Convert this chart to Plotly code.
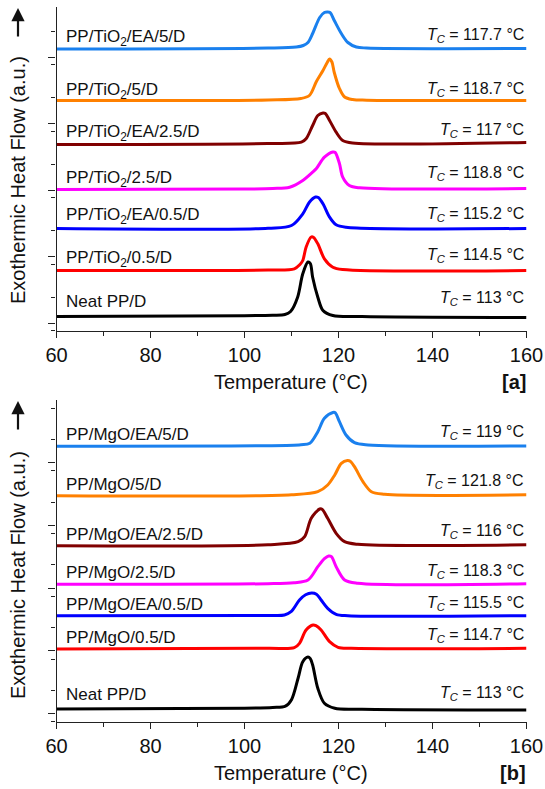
import plotly.graph_objects as go

W, H = 545, 789
FONT = "Arial, Liberation Sans, sans-serif"

# ---------------- data: panel [a] (TiO2) ----------------
a_EA5_T = [60, 105, 111, 112.5, 113.5, 114.5, 116, 117, 117.6, 118.2, 119.1, 120.6, 122, 123.8, 126, 160]
a_EA5_y = [281.5, 282.5, 283.5, 285, 288, 297, 313, 318, 318.5, 318, 310, 297, 288, 283.5, 282.5, 282]
a_5_T = [60, 105, 112, 113.8, 115.3, 116.7, 117.6, 118.1, 118.6, 119.1, 120.2, 121.3, 123, 126, 160]
a_5_y = [230, 230.5, 232, 235, 249, 260, 268, 271.5, 268.5, 258, 242, 233.5, 231, 230.3, 230]
a_EA25_T = [60, 105, 112.1, 113.1, 114.5, 115.6, 116.7, 117.2, 118.1, 119.5, 120.9, 123, 160]
a_EA25_y = [186, 187, 188.3, 191.7, 205, 215, 217.5, 217, 210, 198.3, 190, 187.5, 188]
a_25_T = [60, 100, 106, 109.6, 112.4, 114.5, 115.3, 117, 118.8, 119.3, 120.2, 120.9, 122.3, 124.5, 160]
a_25_y = [141, 141.5, 142, 143.3, 150, 158.3, 162, 173.3, 178.5, 178, 167, 153.3, 145, 142.7, 142]
a_EA05_T = [60, 105, 110, 112.4, 113.8, 115.1, 115.7, 116.7, 118.1, 119.5, 121.6, 160]
a_EA05_y = [102, 102.3, 105, 116.7, 128.3, 133.5, 133, 126.7, 113.3, 105.7, 103.3, 102]
a_05_T = [60, 105, 110.6, 111.8, 112.4, 113.1, 114.2, 114.7, 115.6, 117, 118.8, 120.9, 160]
a_05_y = [60, 60.5, 61.7, 66, 70, 83.3, 93.5, 93, 86.7, 71.7, 63.3, 61, 60]
a_neat_T = [60, 100, 106, 108.6, 109.8, 111.3, 112.4, 113.5, 114, 114.5, 115.6, 116.7, 118.8, 125, 160]
a_neat_y = [14, 14.8, 15.3, 16, 19, 33.3, 56.7, 68.5, 67, 53.3, 33.3, 20, 15, 14, 13]

# ---------------- data: panel [b] (MgO) ----------------
b_EA5_T = [60, 105, 112, 113.9, 115.6, 117, 118.8, 119.3, 120.2, 121.6, 123.4, 126.3, 160]
b_EA5_y = [275.5, 276, 277, 278.4, 290, 303.4, 309.2, 309, 300, 286.7, 279, 276.7, 275.7]
b_5_T = [60, 110, 115.6, 117.7, 119.2, 120.6, 121.9, 122.5, 123.4, 125.2, 127, 129.8, 160]
b_5_y = [226, 227, 230, 236.7, 246.7, 258.4, 261.2, 260.5, 255, 240, 230, 227.4, 227]
b_EA25_T = [60, 105, 111.4, 112.8, 114.2, 116, 116.5, 117.7, 119.5, 121.3, 124.1, 160]
b_EA25_y = [176, 177, 180, 185, 203.4, 212.7, 212.5, 203.4, 188.4, 180, 177.4, 177]
b_25_T = [60, 105, 110.5, 113.5, 115.6, 117, 117.9, 118.5, 119.5, 121.3, 124.1, 160]
b_25_y = [137.4, 138, 139, 141.7, 155, 163, 165.7, 165, 155, 141.7, 138.4, 138]
b_EA05_T = [60, 105, 108.5, 109.9, 111.7, 113, 114.3, 115.3, 116.3, 117.7, 119.5, 122, 160]
b_EA05_y = [106, 106.3, 106.7, 110, 121.7, 127, 128.7, 127.5, 121.7, 113.4, 107.4, 106, 106]
b_05_T = [60, 105, 110.6, 111.7, 113.1, 114.6, 115.2, 116.3, 118.1, 119.9, 122.7, 160]
b_05_y = [72.7, 73.4, 74, 78.4, 91.7, 96.7, 96, 91.7, 80, 74.4, 73.4, 73.4]
b_neat_T = [60, 100, 106, 108.7, 110, 111.4, 112.4, 113.5, 114, 114.5, 115.6, 117, 119.2, 125, 160]
b_neat_y = [12.7, 13.4, 14.2, 15.5, 22, 43.4, 60, 64.7, 63, 56.7, 33.4, 18.4, 13.4, 12.5, 11.7]

colors = ["#1a80ee", "#ff8000", "#800000", "#ff00ff", "#0000ff", "#ff0000", "#000000"]

a_names = ["PP/TiO<sub>2</sub>/EA/5/D", "PP/TiO<sub>2</sub>/5/D", "PP/TiO<sub>2</sub>/EA/2.5/D",
           "PP/TiO<sub>2</sub>/2.5/D", "PP/TiO<sub>2</sub>/EA/0.5/D", "PP/TiO<sub>2</sub>/0.5/D", "Neat PP/D"]
a_tc = ["117.7", "118.7", "117", "118.8", "115.2", "114.5", "113"]
b_names = ["PP/MgO/EA/5/D", "PP/MgO/5/D", "PP/MgO/EA/2.5/D", "PP/MgO/2.5/D",
           "PP/MgO/EA/0.5/D", "PP/MgO/0.5/D", "Neat PP/D"]
b_tc = ["119", "121.8", "116", "118.3", "115.5", "114.7", "113"]

a_series = [(a_EA5_T, a_EA5_y), (a_5_T, a_5_y), (a_EA25_T, a_EA25_y), (a_25_T, a_25_y),
            (a_EA05_T, a_EA05_y), (a_05_T, a_05_y), (a_neat_T, a_neat_y)]
b_series = [(b_EA5_T, b_EA5_y), (b_5_T, b_5_y), (b_EA25_T, b_EA25_y), (b_25_T, b_25_y),
            (b_EA05_T, b_EA05_y), (b_05_T, b_05_y), (b_neat_T, b_neat_y)]

# ---------------- layout geometry (pixels) ----------------
def px(x):
    return x / W

def py(y):
    return 1 - y / H

X0, X1 = 56.5, 526.5
A_TOP, A_BOT = 7, 330.5
B_TOP, B_BOT = 400, 721.7

a_lab_y = [37.5, 91, 132.5, 179, 216, 259, 301]
a_tc_y = [35, 89, 130, 173, 214, 255, 298]
b_lab_y = [434.5, 484.5, 534, 572.5, 604, 637.5, 694]
b_tc_y = [432, 481, 531, 571, 603, 635, 693]

fig = go.Figure()
for (T, y), c, n in zip(a_series, colors, a_names):
    fig.add_trace(go.Scatter(x=T, y=y, mode="lines", line=dict(color=c, width=3, shape="spline", smoothing=0.9),
                             xaxis="x", yaxis="y", showlegend=False, name=n))
for (T, y), c, n in zip(b_series, colors, b_names):
    fig.add_trace(go.Scatter(x=T, y=y, mode="lines", line=dict(color=c, width=3, shape="spline", smoothing=0.9),
                             xaxis="x2", yaxis="y2", showlegend=False, name=n))

axis_common = dict(showgrid=False, zeroline=False, showline=True, linecolor="#222", linewidth=1.3,
                   ticks="outside", tickcolor="#222", tickwidth=1.3, mirror=False, automargin=False)

xa = dict(axis_common, range=[60, 160], dtick=20, tick0=60, ticklen=6,
          minor=dict(dtick=10, ticks="outside", ticklen=4, tickcolor="#222", tickwidth=1.3),
          tickfont=dict(family=FONT, size=20, color="#111"), domain=[px(X0), px(X1)])

fig.update_layout(
    width=W, height=H, margin=dict(l=0, r=0, t=0, b=0),
    paper_bgcolor="white", plot_bgcolor="white",
    xaxis=dict(xa, anchor="y"),
    xaxis2=dict(xa, anchor="y2"),
    yaxis=dict(axis_common, range=[0, A_BOT - A_TOP], tick0=7.5, dtick=66.5, ticklen=7, showticklabels=False,
               minor=dict(dtick=33.25, ticks="outside", ticklen=4, tickcolor="#222", tickwidth=1.3),
               domain=[py(A_BOT), py(A_TOP)], anchor="x"),
    yaxis2=dict(axis_common, range=[0, B_BOT - B_TOP], tick0=8.3, dtick=62.7, ticklen=7, showticklabels=False,
                minor=dict(dtick=31.35, ticks="outside", ticklen=4, tickcolor="#222", tickwidth=1.3),
                domain=[py(B_BOT), py(B_TOP)], anchor="x2"),
)

ann = []
for names, ly, tcs, ty in [(a_names, a_lab_y, a_tc, a_tc_y), (b_names, b_lab_y, b_tc, b_tc_y)]:
    for n, yy in zip(names, ly):
        ann.append(dict(text=n, x=px(64), y=py(yy), xref="paper", yref="paper", xanchor="left",
                        yanchor="middle", showarrow=False, font=dict(family=FONT, size=17, color="#111")))
    for t, yy in zip(tcs, ty):
        ann.append(dict(text=f"<i>T</i><sub><i>C</i></sub> = {t} °C", x=px(526), y=py(yy), xref="paper",
                        yref="paper", xanchor="right", yanchor="middle", showarrow=False,
                        font=dict(family=FONT, size=16, color="#111")))

for yc, ytitle, yarrow, lab in [(382, 180, 8, "[a]"), (773, 575, 401, "[b]")]:
    ann.append(dict(text="Temperature (°C)", x=px((X0 + X1) / 2), y=py(yc), xref="paper", yref="paper",
                    xanchor="center", yanchor="middle", showarrow=False,
                    font=dict(family=FONT, size=20, color="#111")))
    ann.append(dict(text=f"<b>{lab}</b>", x=px(528), y=py(yc), xref="paper", yref="paper",
                    xanchor="right", yanchor="middle", showarrow=False,
                    font=dict(family=FONT, size=20, color="#111")))
    ann.append(dict(text="Exothermic Heat Flow (a.u.)", x=px(18), y=py(ytitle), xref="paper", yref="paper",
                    xanchor="center", yanchor="middle", textangle=-90, showarrow=False,
                    font=dict(family=FONT, size=20, color="#111")))
    ann.append(dict(text="", x=px(18), y=py(yarrow), xref="paper", yref="paper",
                    ax=0, ay=30, axref="pixel", ayref="pixel", showarrow=True,
                    arrowhead=2, arrowsize=1.2, arrowwidth=2.2, arrowcolor="#111"))

fig.update_layout(annotations=ann)
fig.write_html("out.html")
